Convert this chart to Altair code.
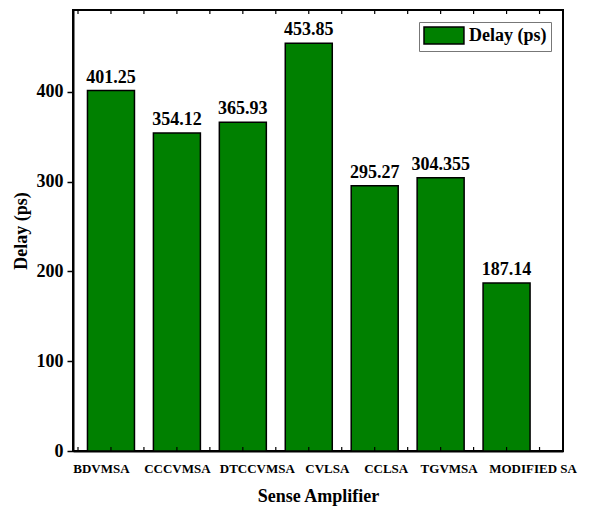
import json
import altair as alt
import pandas as pd

names = ["BDVMSA", "CCCVMSA", "DTCCVMSA", "CVLSA", "CCLSA", "TGVMSA", "MODIFIED SA"]
delays = [401.25, 354.12, 365.93, 453.85, 295.27, 304.355, 187.14]
delay_labels = ["401.25", "354.12", "365.93", "453.85", "295.27", "304.355", "187.14"]
positions = [1, 2, 3, 4, 5, 6, 7]
x_ticks = [0.5, 1, 1.5, 2, 2.5, 3, 3.5, 4, 4.5, 5, 5.5, 6, 6.5, 7, 7.5]
y_ticks = [0, 100, 200, 300, 400]
series = "Delay (ps)"

# style: horizontal nudges of the category labels, as set in the original figure
label_nudge = [-10, 0, 14, 18, 11, 8, 26]

df = pd.DataFrame({"pos": positions, "name": names, "delay": delays,
                   "label": delay_labels, "series": [series] * len(names)})
tick_df = pd.DataFrame({"t": x_ticks})

W, H = 490, 441
FONT = "Liberation Serif"
xscale = alt.Scale(domain=[0.5, 7.78], nice=False, zero=False)
yscale = alt.Scale(domain=[0, 491], nice=False, zero=True)

label_expr = json.dumps(names) + "[datum.value - 1]"
label_offset = {
    "condition": [{"test": f"datum.value == {p}", "value": n}
                  for p, n in zip(positions, label_nudge)],
    "value": 0,
}

x_axis = alt.Axis(values=positions, labelExpr=label_expr, title="Sense Amplifier",
                  ticks=False, labelPadding=11, labelFontSize=13, labelOverlap=False,
                  labelBound=False, labelFlush=False, titlePadding=12, grid=False,
                  labelOffset=label_offset)
y_axis = alt.Axis(values=y_ticks, title="Delay (ps)", tickSize=6, tickWidth=1.5,
                  labelPadding=4, labelFontSize=18, titlePadding=6, grid=False,
                  titleFontSize=18)

bars = alt.Chart(df).mark_bar(size=47, stroke="black", strokeWidth=1.5).encode(
    x=alt.X("pos:Q", scale=xscale, axis=x_axis),
    y=alt.Y("delay:Q", scale=yscale, axis=y_axis),
    color=alt.Color("series:N", scale=alt.Scale(range=["#008000"]),
                    legend=alt.Legend(title=None, orient="none", legendX=346, legendY=12,
                                      strokeColor="#777777", fillColor="white", padding=4,
                                      symbolType="M-1,-1H3.7V1H-1Z", symbolSize=289,
                                      symbolStrokeColor="black", symbolStrokeWidth=1.5,
                                      symbolFillColor="#008000",
                                      labelFont=FONT, labelFontSize=18, labelFontWeight="bold",
                                      labelOffset=27, labelColor="black")),
)

text = alt.Chart(df).mark_text(baseline="alphabetic", dy=-8, font=FONT,
                               fontWeight="bold", fontSize=18, color="black").encode(
    x=alt.X("pos:Q", scale=xscale),
    y=alt.Y("delay:Q", scale=yscale),
    text="label:N",
)

bottom_ticks = alt.Chart(tick_df).mark_rule(color="black", strokeWidth=1.2).encode(
    x=alt.X("t:Q", scale=xscale), y=alt.value(H), y2=alt.value(H - 4))
top_ticks = alt.Chart(tick_df).mark_rule(color="black", strokeWidth=1.2).encode(
    x=alt.X("t:Q", scale=xscale), y=alt.value(0), y2=alt.value(4))

chart = alt.layer(bars, text, bottom_ticks, top_ticks).properties(
    width=W, height=H,
    autosize=alt.AutoSizeParams(type="none"),
    padding={"left": 65, "top": 2, "right": 20, "bottom": 58},
).configure_view(stroke="black", strokeWidth=2).configure_axis(
    domainColor="black", domainWidth=2, tickColor="black",
    labelFont=FONT, labelFontWeight="bold", labelColor="black",
    titleFont=FONT, titleFontWeight="bold", titleColor="black", titleFontSize=18,
)

chart.save("out.html", embed_options={"renderer": "svg", "actions": False})
